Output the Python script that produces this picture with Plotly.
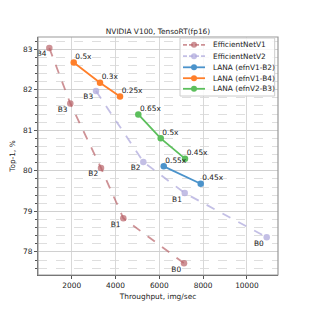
import plotly.graph_objects as go

# EfficientNetV1
v1_x = [977, 1936, 3338, 4356, 7128]
v1_y = [83.03, 81.66, 80.07, 78.83, 77.72]
v1_lbl = ["B4", "B3", "B2", "B1", "B0"]
# EfficientNetV2
v2_x = [3110, 5270, 7160, 10904]
v2_y = [81.97, 80.22, 79.45, 78.36]
v2_lbl = ["B3", "B2", "B1", "B0"]
# LANA efnV1-B2
l12_x = [6201, 7890]
l12_y = [80.11, 79.68]
l12_lbl = ["0.55x", "0.45x"]
# LANA efnV1-B4
l14_x = [2091, 3292, 4205]
l14_y = [82.67, 82.17, 81.83]
l14_lbl = ["0.5x", "0.3x", "0.25x"]
# LANA efnV2-B3
l23_x = [5041, 6064, 7173]
l23_y = [81.39, 80.80, 80.30]
l23_lbl = ["0.65x", "0.5x", "0.45x"]

FONT = "DejaVu Sans"
FS = 7.4
OFF = 8  # page body margin
W = H = 309 - OFF
ML, MR, MT, MB = 38 - OFF, 31, 37 - OFF, 34
PW, PH = W - ML - MR, H - MT - MB


def px(x):  # page pixel -> paper
    return (x - OFF - ML) / PW


def py(y):
    return 1 - (y - OFF - MT) / PH


fig = go.Figure()

series = [
    ("EfficientNetV1", v1_x, v1_y, v1_lbl, "rgba(185,100,105,0.7)", "dash", "bottom left", 3),
    ("EfficientNetV2", v2_x, v2_y, v2_lbl, "rgba(175,170,220,0.75)", "dash", "bottom left", 3),
    ("LANA (efnV1-B2)", l12_x, l12_y, l12_lbl, "#4b93cb", "solid", "top right", 1),
    ("LANA (efnV1-B4)", l14_x, l14_y, l14_lbl, "#ff7f2a", "solid", "top right", 1),
    ("LANA (efnV2-B3)", l23_x, l23_y, l23_lbl, "#5cbf5c", "solid", "top right", 1),
]
for name, xs, ys, lbl, col, dash, tp, ms in series:
    fig.add_trace(go.Scatter(x=xs, y=ys, mode="lines+markers", name=name,
                             line=dict(color=col, width=1.8, dash=dash),
                             marker=dict(color=col, size=6.5), showlegend=False))
for name, xs, ys, lbl, col, dash, tp, ms in series:
    fig.add_trace(go.Scatter(x=xs, y=ys, mode="markers+text", text=lbl, textposition=tp,
                             marker=dict(size=ms, color="rgba(0,0,0,0)"), cliponaxis=False,
                             showlegend=False, hoverinfo="skip",
                             textfont=dict(family=FONT, size=FS, color="#222")))

shapes = [dict(type="rect", xref="paper", yref="paper", x0=0, y0=0, x1=1, y1=1,
               line=dict(color="#999", width=1.2), layer="above")]
annotations = []
# custom legend box
shapes.append(dict(type="rect", xref="paper", yref="paper",
                   x0=px(180), x1=px(274.7), y0=py(96), y1=py(38),
                   fillcolor="rgba(255,255,255,0.85)", line=dict(color="#ccc", width=1),
                   layer="above"))
rows = [44.8, 56.2, 67.3, 78.2, 88.8]
for (name, xs, ys, lbl, col, dash, tp, ms), ry in zip(series, rows):
    shapes.append(dict(type="line", xref="paper", yref="paper",
                       x0=px(183), x1=px(205), y0=py(ry), y1=py(ry),
                       line=dict(color=col, width=1.8, dash=dash if dash == "solid" else "4px,2px"),
                       layer="above"))
    shapes.append(dict(type="circle", xref="paper", yref="paper",
                       x0=px(194 - 3), x1=px(194 + 3), y0=py(ry + 3), y1=py(ry - 3),
                       fillcolor=col, line=dict(width=0), layer="above"))
    annotations.append(dict(xref="paper", yref="paper", x=px(210.5), y=py(ry),
                            xanchor="left", yanchor="middle", text=name, showarrow=False,
                            font=dict(family=FONT, size=FS, color="#222")))

fig.update_layout(
    width=W, height=H,
    margin=dict(l=ML, r=MR, t=MT, b=MB),
    paper_bgcolor="white", plot_bgcolor="white",
    font=dict(family=FONT, size=FS, color="#222"),
    title=dict(text="NVIDIA V100, TensoRT(fp16)", x=(ML + PW / 2) / W, xanchor="center",
               y=1 - (31 - OFF) / H, yanchor="middle", font=dict(size=FS)),
    shapes=shapes, annotations=annotations,
    showlegend=False,
)
fig.update_xaxes(range=[460, 11420], tickvals=[2000, 4000, 6000, 8000, 10000],
                 ticktext=["2000", "4000", "6000", "8000", "10000"],
                 showgrid=True, gridcolor="#d8d8d8", gridwidth=1,
                 showline=True, linecolor="#555", linewidth=1.2,
                 ticks="outside", ticklen=3, tickcolor="#555", zeroline=False,
                 automargin=False,
                 title=dict(text="Throughput, img/sec", font=dict(size=FS), standoff=4))
fig.update_yaxes(range=[77.43, 83.3], tickvals=[78, 79, 80, 81, 82, 83],
                 showgrid=True, gridcolor="#d0d0d0", gridwidth=1,
                 showline=True, linecolor="#555", linewidth=1.2,
                 ticks="outside", ticklen=3, tickcolor="#555", zeroline=False,
                 automargin=False,
                 minor=dict(dtick=0.2, showgrid=True, gridcolor="#dedede", griddash="dash",
                            ticks="outside", ticklen=2, tickcolor="#555"),
                 title=dict(text="Top-1, %", font=dict(size=FS), standoff=6))

fig.write_html("out.html")
